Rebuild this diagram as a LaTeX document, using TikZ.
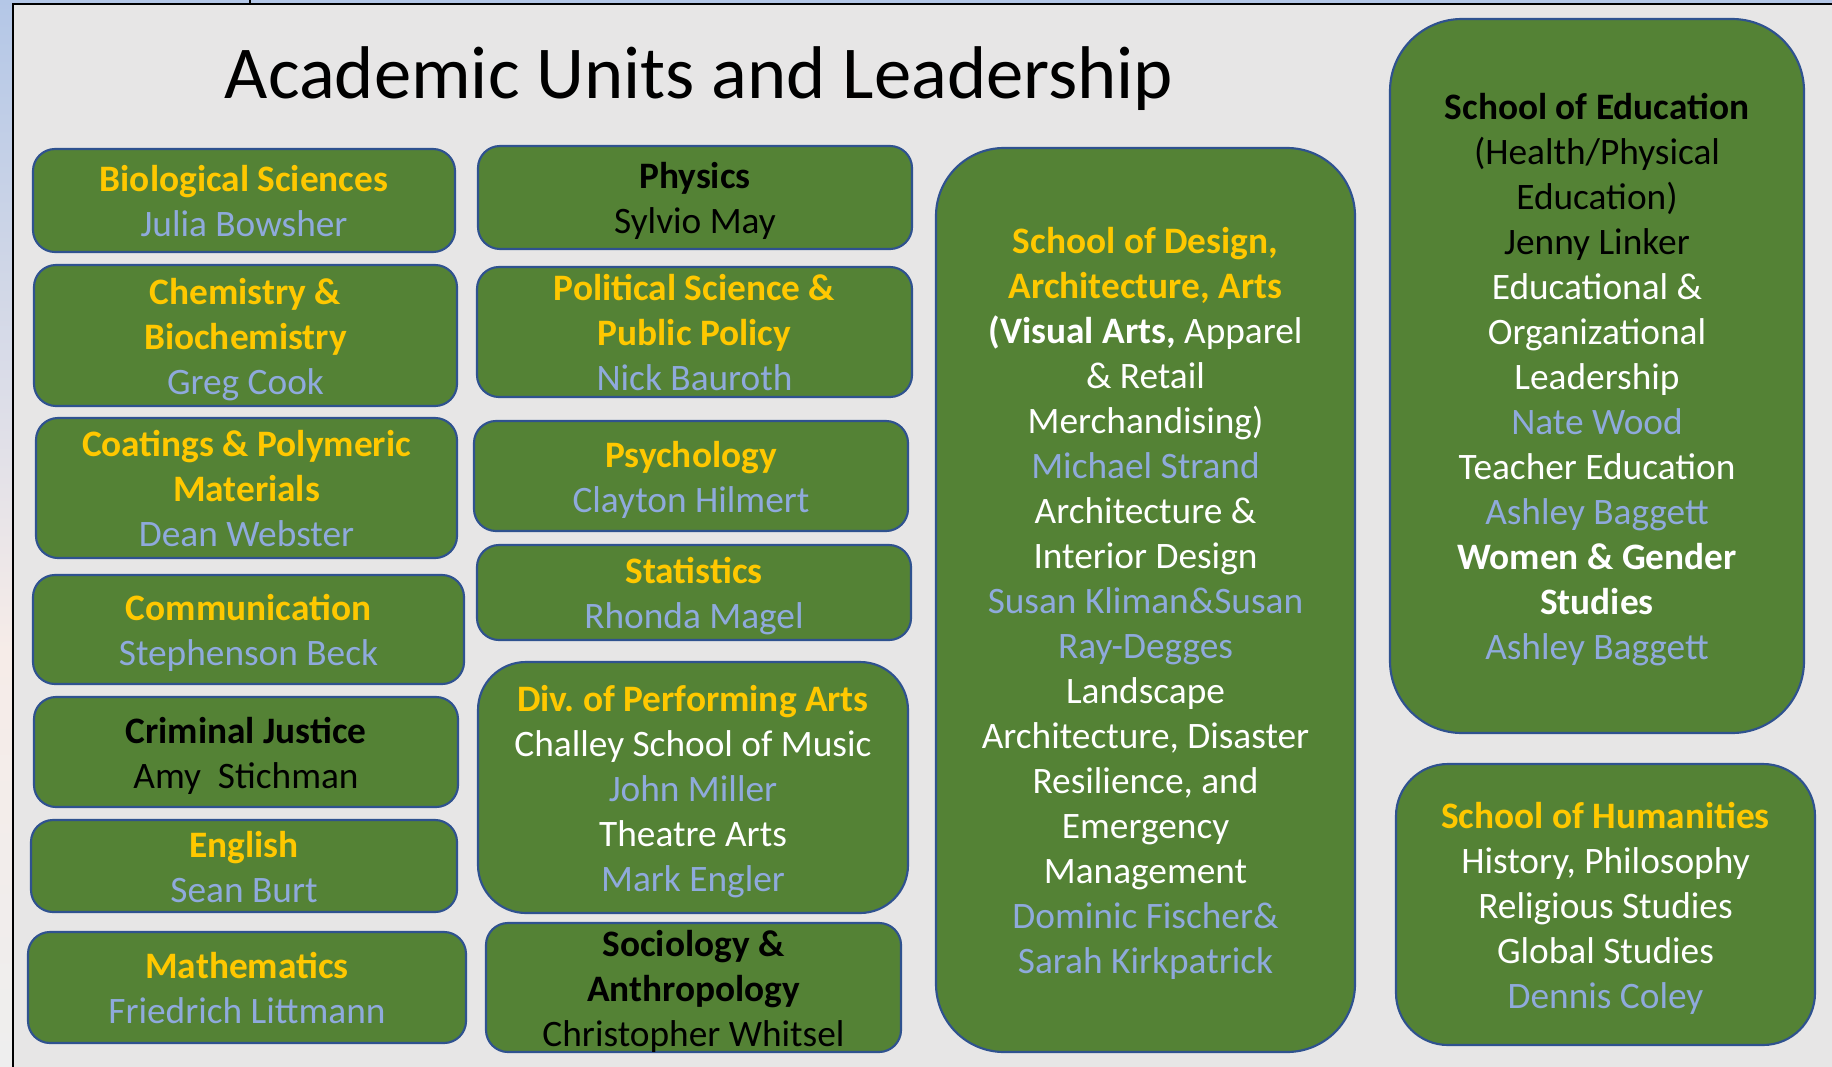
\documentclass[tikz,border=0pt]{standalone}
\usepackage{fontspec}
\setmainfont{Carlito}
\frenchspacing
\definecolor{bggrey}{HTML}{E7E6E6}
\definecolor{boxgreen}{HTML}{548235}
\definecolor{boxborder}{HTML}{2F528F}
\definecolor{unityellow}{HTML}{FFC800}
\definecolor{nameblue}{HTML}{8FAADC}
\definecolor{stripblue}{HTML}{B4C7E7}
\definecolor{strippink}{HTML}{F6ECE8}
\definecolor{stripgrey}{HTML}{EEEEEE}
\newcommand{\uyel}[1]{{\bfseries\color{unityellow}#1}}
\newcommand{\ublk}[1]{{\bfseries\color{black}#1}}
\newcommand{\uwhb}[1]{{\bfseries\color{white}#1}}
\newcommand{\unam}[1]{{\color{nameblue}#1}}
\newcommand{\uwht}[1]{{\color{white}#1}}
\newcommand{\ublr}[1]{{\color{black}#1}}
\newcommand{\ust}{\rule[-0.2\baselineskip]{0pt}{\baselineskip}}
\newcommand{\unitbox}[7]{%
  \draw[box, rounded corners=#6] (#2,#3) rectangle (#4,#5);
  \node[txt] (#1) at ({(#2+#4)/2},{(#3+#5)/2}) {#7};}
\begin{document}
\begin{tikzpicture}[x=0.75pt,y=-0.75pt,
  box/.style={draw=boxborder, line width=1.6pt, fill=boxgreen},
  txt/.style={align=center, inner sep=0pt, font=\fontsize{28}{33.75}\selectfont}]
\useasboundingbox (0,0) rectangle (1832,1067);
\fill[bggrey] (0,0) rectangle (1832,1067);
\shade[top color=stripblue, bottom color=strippink] (0,0) rectangle (13,650);
\shade[top color=strippink, bottom color=stripgrey] (0,650) rectangle (13,1067);
\fill[stripblue] (0,0) rectangle (1832,3);
\draw[black, line width=2pt] (13,1067) -- (13,4) -- (1832,4);
\draw[black, line width=2pt] (250,0) -- (250,4);

\node[anchor=base, inner sep=0pt, font=\fontsize{56}{68}\selectfont] (title) at (699,98) {Academic Units and Leadership};

% left column
\unitbox{bio}{33}{149}{455}{252}{16.5pt}{\ust\uyel{Biological Sciences}\\\ust\unam{Julia Bowsher}}
\unitbox{chem}{34}{265}{457}{406}{16.5pt}{\ust\uyel{Chemistry \&}\\\ust\uyel{Biochemistry}\\\ust\unam{Greg Cook}}
\unitbox{coat}{36}{418}{457}{558}{16.5pt}{\ust\uyel{Coatings \& Polymeric}\\\ust\uyel{Materials}\\\ust\unam{Dean Webster}}
\unitbox{comm}{33}{575}{464}{684}{16.5pt}{\ust\uyel{Communication}\\\ust\unam{Stephenson Beck}}
\unitbox{crim}{34}{697}{458}{807}{16.5pt}{\ust\ublk{Criminal Justice}\\\ust\ublr{Amy\ \ Stichman}}
\unitbox{eng}{31}{820}{457}{912}{16.5pt}{\ust\uyel{English}\\\ust\unam{Sean Burt}}
\unitbox{math}{28}{932}{466}{1043}{16.5pt}{\ust\uyel{Mathematics}\\\ust\unam{Friedrich Littmann}}

% middle column
\unitbox{phys}{478}{146}{912}{249}{16.5pt}{\ust\ublk{Physics}\\\ust\ublr{Sylvio May}}
\unitbox{pols}{477}{267}{912}{397}{16.5pt}{\ust\uyel{Political Science \&}\\\ust\uyel{Public Policy}\\\ust\unam{Nick Bauroth}}
\unitbox{psy}{474}{421}{908}{531}{16.5pt}{\ust\uyel{Psychology}\\\ust\unam{Clayton Hilmert}}
\unitbox{stat}{477}{545}{911}{640}{16.5pt}{\ust\uyel{Statistics}\\\ust\unam{Rhonda Magel}}
\unitbox{div}{478}{662}{908}{913}{36pt}{\ust\uyel{Div.\ of Performing Arts}\\\ust\uwht{Challey School of Music}\\\ust\unam{John Miller}\\\ust\uwht{Theatre Arts}\\\ust\unam{Mark Engler}}
\unitbox{soc}{486}{923}{901}{1052}{16.5pt}{\ust\ublk{Sociology \&}\\\ust\ublk{Anthropology}\\\ust\ublr{Christopher Whitsel}}

% design school
\unitbox{design}{936}{148}{1355}{1052}{51pt}{\ust\uyel{School of Design,}\\\ust\uyel{Architecture, Arts}\\\ust\uwhb{(Visual Arts,}\ \uwht{Apparel}\\\ust\uwht{\& Retail}\\\ust\uwht{Merchandising)}\\\ust\unam{Michael Strand}\\\ust\uwht{Architecture \&}\\\ust\uwht{Interior Design}\\\ust\unam{Susan Kliman\&Susan}\\\ust\unam{Ray-Degges}\\\ust\uwht{Landscape}\\\ust\uwht{Architecture, Disaster}\\\ust\uwht{Resilience, and}\\\ust\uwht{Emergency}\\\ust\uwht{Management}\\\ust\unam{Dominic Fischer\&}\\\ust\unam{Sarah Kirkpatrick}}

% education
\unitbox{edu}{1390}{19}{1804}{733}{54pt}{\ust\ublk{School of Education}\\\ust\ublr{(Health/Physical}\\\ust\ublr{Education)}\\\ust\ublr{Jenny Linker}\\\ust\uwht{Educational \&}\\\ust\uwht{Organizational}\\\ust\uwht{Leadership}\\\ust\unam{Nate Wood}\\\ust\uwht{Teacher Education}\\\ust\unam{Ashley Baggett}\\\ust\uwhb{Women \& Gender}\\\ust\uwhb{Studies}\\\ust\unam{Ashley Baggett}}

% humanities
\unitbox{hum}{1396}{764}{1815}{1045}{39pt}{\ust\uyel{School of Humanities}\\\ust\uwht{History, Philosophy}\\\ust\uwht{Religious Studies}\\\ust\uwht{Global Studies}\\\ust\unam{Dennis Coley}}
\end{tikzpicture}
\end{document}
